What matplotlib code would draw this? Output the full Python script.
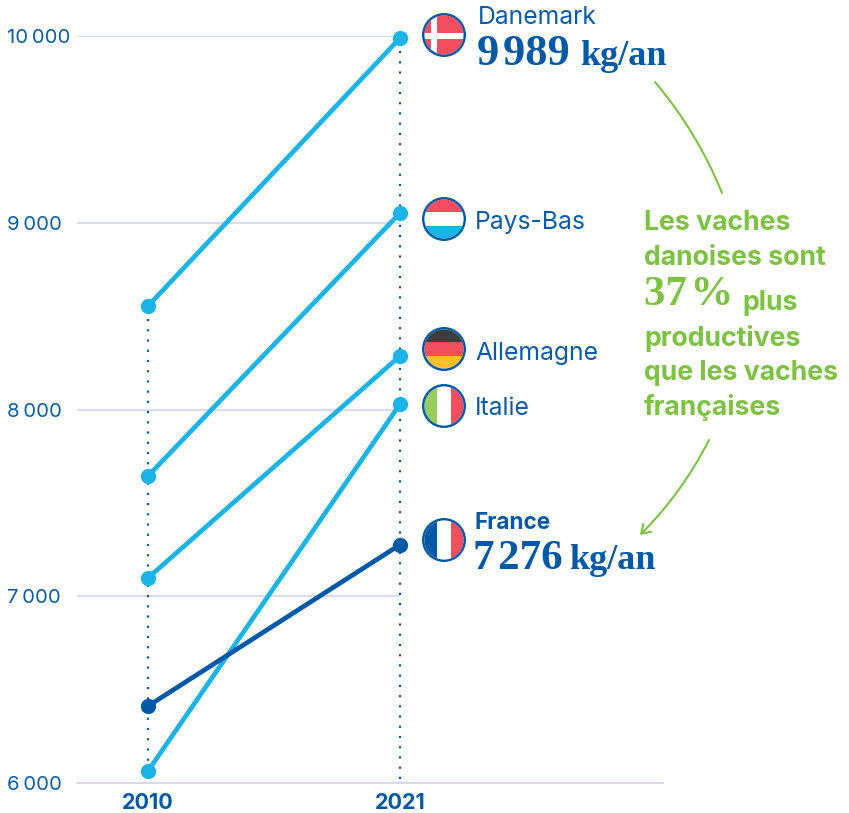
import matplotlib
matplotlib.use("Agg")
import matplotlib.pyplot as plt
from matplotlib.patches import Circle, Rectangle, FancyArrowPatch

W, H = 849, 813
years = [2010, 2021]
countries = ["Danemark", "Pays-Bas", "Allemagne", "Italie", "France"]
v2010 = [8554, 7644, 7098, 6064, 6412]
v2021 = [9989, 9052, 8287, 8029, 7276]
ytick_vals = [6000, 7000, 8000, 9000, 10000]
ytick_labels = ["6\u2009000", "7\u2009000", "8\u2009000", "9\u2009000", "10\u2009000"]

BLUE = "#0A5CA8"
DARK = "#0059A6"
LIGHT = "#1CB3E6"
GRID = "#CDD4E8"
GREEN = "#7DC242"
RED = "#F24E60"
SANS = ["Inter", "DejaVu Sans"]
SERIF = "Liberation Serif"

fig = plt.figure(figsize=(W / 100, H / 100), dpi=100, facecolor="white")

ax = fig.add_axes([77 / W, (H - 783) / H, (663 - 77) / W, (783 - 36) / H])
px_per_year = (400 - 148) / 11
ax.set_xlim(2010 - (148 - 77) / px_per_year, 2021 + (663 - 400) / px_per_year)
ax.set_ylim(6000, 10000)
for s in ["top", "right", "left"]:
    ax.spines[s].set_visible(False)
ax.spines["bottom"].set_color(GRID)
ax.spines["bottom"].set_linewidth(1.2)
ax.set_yticks(ytick_vals, ytick_labels, fontsize=14.6, color=BLUE, family=SANS)
for t in ax.get_yticklabels():
    t.set_ha("left")
ax.set_xticks(years, [str(y) for y in years], fontsize=15.5, color=DARK, family=SANS, fontweight="bold")
ax.tick_params(axis="y", length=0, pad=50.5)
ax.tick_params(axis="x", length=0, pad=7.5)
ax.hlines(ytick_vals[1:], ax.get_xlim()[0], 2021, color=GRID, lw=1.1, zorder=1)

dots = dict(color=BLUE, lw=1.6, ls=(0, (1, 3.6)), zorder=2)
ax.plot([2010, 2010], [min(v2010), max(v2010)], **dots)
ax.plot([2021, 2021], [6020, max(v2021)], **dots)

for name, a, b in zip(countries, v2010, v2021):
    c = DARK if name == "France" else LIGHT
    z = 4 if name == "France" else 3
    ax.plot(years, [a, b], color=c, lw=3.4, marker="o", ms=11, mew=0, zorder=z, clip_on=False)

ov = fig.add_axes([0, 0, 1, 1], facecolor="none")
ov.set_xlim(0, W)
ov.set_ylim(H, 0)
ov.axis("off")


def flag(cx, cy, bands, vertical=False, cross=False):
    r = 19.6
    clip = Circle((cx, cy), r, transform=ov.transData)
    n = len(bands)
    for i, col in enumerate(bands):
        if vertical:
            p = Rectangle((cx - r + 2 * r * i / n, cy - r), 2 * r / n + 0.3, 2 * r, fc=col, ec="none")
        else:
            p = Rectangle((cx - r, cy - r + 2 * r * i / n), 2 * r, 2 * r / n + 0.3, fc=col, ec="none")
        ov.add_patch(p)
        p.set_clip_path(clip)
    if cross:
        for rect in [(cx - 13, cy - r, 6, 2 * r), (cx - r, cy - 2, 2 * r, 6.5)]:
            p = Rectangle(rect[:2], rect[2], rect[3], fc="white", ec="none")
            ov.add_patch(p)
            p.set_clip_path(clip)
    ov.add_patch(Circle((cx, cy), 20.8, fc="none", ec=DARK, lw=1.7))


flag(444, 35, [RED], cross=True)
flag(444, 219, [RED, "white", LIGHT])
flag(444, 349, ["#3C3C3C", RED, "#FFBF2B"])
flag(444, 406, ["#98CC5C", "white", RED], vertical=True)
flag(444, 540, [DARK, "white", RED], vertical=True)

lab = dict(color=BLUE, fontsize=17.8, family=SANS, va="center", ha="left")
ov.text(478, 18, "Danemark", **lab)
ov.text(475, 222, "Pays-Bas", **lab)
ov.text(475, 353, "Allemagne", **lab)
ov.text(475, 408, "Italie", **lab)
ov.text(475, 523, "France", color=DARK, fontsize=16.2, family=SANS, fontweight="bold", va="center", ha="left")

big = dict(color=DARK, family=SERIF, fontweight="bold", va="baseline", ha="left")
ov.text(477, 65, "9\u200a989", fontsize=32, **big)
ov.text(580, 65, "kg/an", fontsize=26, **big)
ov.text(473, 569, "7\u200a276", fontsize=31, **big)
ov.text(569, 569, "kg/an", fontsize=26, **big)

gr = dict(color=GREEN, fontsize=19.2, family=SANS, fontweight="bold", va="center", ha="left")
ov.text(644, 223, "Les vaches", **gr)
ov.text(644, 258, "danoises sont", **gr)
ov.text(644, 295, "37\u200a%", color=GREEN, fontsize=31, family=SERIF, fontweight="bold", va="center", ha="left")
ov.text(742, 303, "plus", **gr)
ov.text(644, 338, "productives", **gr)
ov.text(644, 373, "que les vaches", **gr)
ov.text(644, 407, "françaises", **gr)

ov.add_patch(FancyArrowPatch((655, 82), (722, 193), connectionstyle="arc3,rad=-0.08",
                             arrowstyle="-", color=GREEN, lw=1.5, shrinkA=0, shrinkB=0))
ov.add_patch(FancyArrowPatch((709, 440), (640, 535), connectionstyle="arc3,rad=-0.08",
                             arrowstyle="->,head_length=6,head_width=4", color=GREEN, lw=1.5,
                             shrinkA=0, shrinkB=0))

fig.savefig("out.png", dpi=100)
